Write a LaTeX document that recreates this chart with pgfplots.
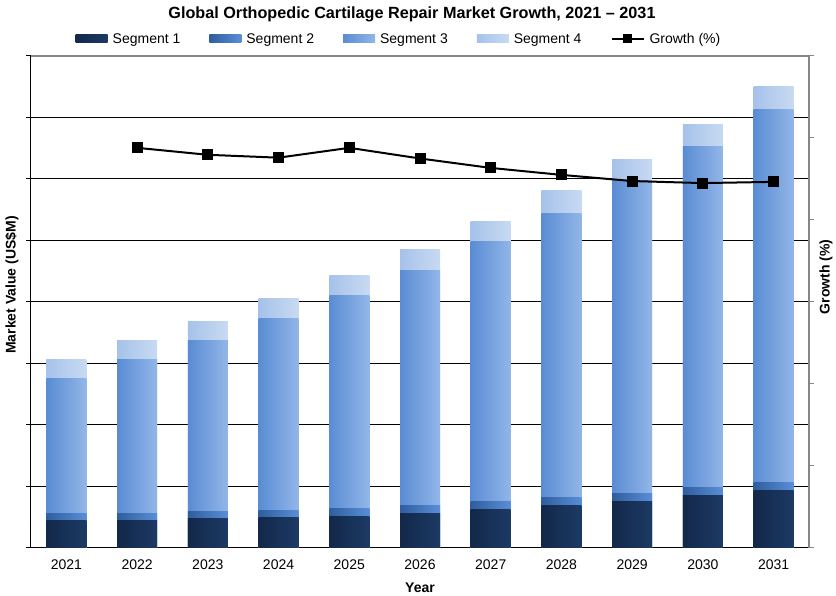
\documentclass[border=0pt]{standalone}
\usepackage{fontspec}
\setmainfont{Liberation Sans}
\usepackage{pgfplots}
\usepackage{pgfplotstable}
\pgfplotsset{compat=1.18}

% bar segment colours (left edge / right edge of the horizontal gradient)
\definecolor{sOneA}{HTML}{13284A}\definecolor{sOneB}{HTML}{1C3A64}
\definecolor{sTwoA}{HTML}{2F5E9E}\definecolor{sTwoB}{HTML}{5A8ED8}
\definecolor{sThrA}{HTML}{5A8CD4}\definecolor{sThrB}{HTML}{92B6E8}
\definecolor{sFouA}{HTML}{A6C2EA}\definecolor{sFouB}{HTML}{C8DAF2}
\definecolor{frame}{HTML}{868686}

\pgfplotsset{
  barlegend/.style={legend image code/.code={\path[##1, draw=none] (0pt,-4pt) rectangle (32pt,4pt);}},
  linelegend/.style={legend image code/.code={%
    \draw[##1, mark=none] (0pt,0pt) -- (32pt,0pt);
    \path[##1] plot coordinates {(16pt,0pt)};}},
  segbar/.style={ybar, bar shift=0pt, draw=none, forget plot},
}

% market value by segment (US$M)
\pgfplotstableread{
idx year s1   s2   s3    s4
0   2021 45.5 9.8  219.5 32.5
1   2022 45.5 11.4 248.8 30.9
2   2023 47.2 11.4 278.0 32.5
3   2024 48.8 11.4 312.2 32.5
4   2025 52.0 13.0 346.3 32.5
5   2026 56.9 13.0 382.1 34.1
6   2027 63.4 11.4 422.8 34.1
7   2028 68.3 13.0 463.4 35.8
8   2029 76.4 13.0 508.9 34.1
9   2030 84.6 13.0 554.5 35.8
10  2031 94.3 13.0 604.9 37.4
}\market

% year-on-year growth (%)
\pgfplotstableread{
idx year g
1   2022 9.76
2   2023 9.59
3   2024 9.52
4   2025 9.76
5   2026 9.50
6   2027 9.27
7   2028 9.10
8   2029 8.95
9   2030 8.90
10  2031 8.93
}\growth

\newcommand{\fs}{\fontsize{14}{16}\selectfont}

\begin{document}
\begin{tikzpicture}
\path[use as bounding box] (0,0) rectangle (836pt,596pt);

\begin{axis}[
  at={(31pt,48pt)}, anchor=south west,
  scale only axis, width=778pt, height=492pt,
  bar width=40pt,
  xmin=-0.5, xmax=10.5, ymin=0, ymax=800,
  axis x line*=bottom, axis y line*=left,
  axis line style={-, black, line width=1pt},
  xtick={0,...,10},
  xticklabels={2021,2022,2023,2024,2025,2026,2027,2028,2029,2030,2031},
  xtick style={draw=none},
  minor xtick={-0.5,0.5,...,10.5},
  minor x tick style={black, line width=1pt},
  minor tick length=5pt,
  xticklabel style={font=\fs, yshift=-3pt},
  ytick={0,100,...,700},
  yticklabels={},
  ytick style={black, line width=1pt},
  tick align=outside, major tick length=5pt,
  ymajorgrids, grid style={black, line width=1pt},
  extra y ticks={800}, extra y tick labels={},
  extra y tick style={grid style={frame, line width=1.5pt}},
  legend columns=5,
  legend style={draw=none, fill=none, font=\fs,
    at={(0.473,1.0346)}, anchor=center,
    /tikz/every odd column/.append style={column sep=3pt},
    /tikz/every even column/.append style={column sep=27pt}},
]
% each bar is its own plot so that every bar carries its own left-to-right gradient;
% segments are drawn as cumulative heights, tallest first
\pgfplotsinvokeforeach{0,...,10}{
  \addplot[segbar, left color=sFouA, right color=sFouB,
    restrict x to domain=#1:#1]
    table[x=idx, y expr=\thisrow{s1}+\thisrow{s2}+\thisrow{s3}+\thisrow{s4}] {\market};
  \addplot[segbar, left color=sThrA, right color=sThrB,
    restrict x to domain=#1:#1]
    table[x=idx, y expr=\thisrow{s1}+\thisrow{s2}+\thisrow{s3}] {\market};
  \addplot[segbar, left color=sTwoA, right color=sTwoB,
    restrict x to domain=#1:#1]
    table[x=idx, y expr=\thisrow{s1}+\thisrow{s2}] {\market};
  \addplot[segbar, left color=sOneA, right color=sOneB,
    restrict x to domain=#1:#1]
    table[x=idx, y=s1] {\market};
}
\addlegendimage{barlegend, left color=sOneA, right color=sOneB}
\addlegendentry{Segment 1}
\addlegendimage{barlegend, left color=sTwoA, right color=sTwoB}
\addlegendentry{Segment 2}
\addlegendimage{barlegend, left color=sThrA, right color=sThrB}
\addlegendentry{Segment 3}
\addlegendimage{barlegend, left color=sFouA, right color=sFouB}
\addlegendentry{Segment 4}
\addlegendimage{linelegend, black, line width=2pt, mark=square*, mark size=3.5pt}
\addlegendentry{Growth (\%)}
\end{axis}

\begin{axis}[
  at={(31pt,48pt)}, anchor=south west,
  scale only axis, width=778pt, height=492pt,
  xmin=-0.5, xmax=10.5, ymin=0, ymax=12,
  axis x line=none, axis y line*=right,
  axis line style={-, frame, line width=1.5pt},
  ytick={0,2,...,12}, yticklabels={},
  ytick style={frame, line width=1pt},
  tick align=outside, major tick length=5pt,
]
\addplot[black, line width=2pt, mark=square*, mark size=4.5pt]
  table[x=idx, y=g] {\growth};
\end{axis}

\node[font=\bfseries\fontsize{16.2}{18}\selectfont] at (412pt,582pt)
  {Global Orthopedic Cartilage Repair Market Growth, 2021 – 2031};
\node[font=\bfseries\fs, rotate=90] at (12pt,311pt) {Market Value (US\$M)};
\node[font=\bfseries\fs, rotate=90] at (826pt,319pt) {Growth (\%)};
\node[font=\bfseries\fs] at (420pt,8pt) {Year};
\end{tikzpicture}
\end{document}
